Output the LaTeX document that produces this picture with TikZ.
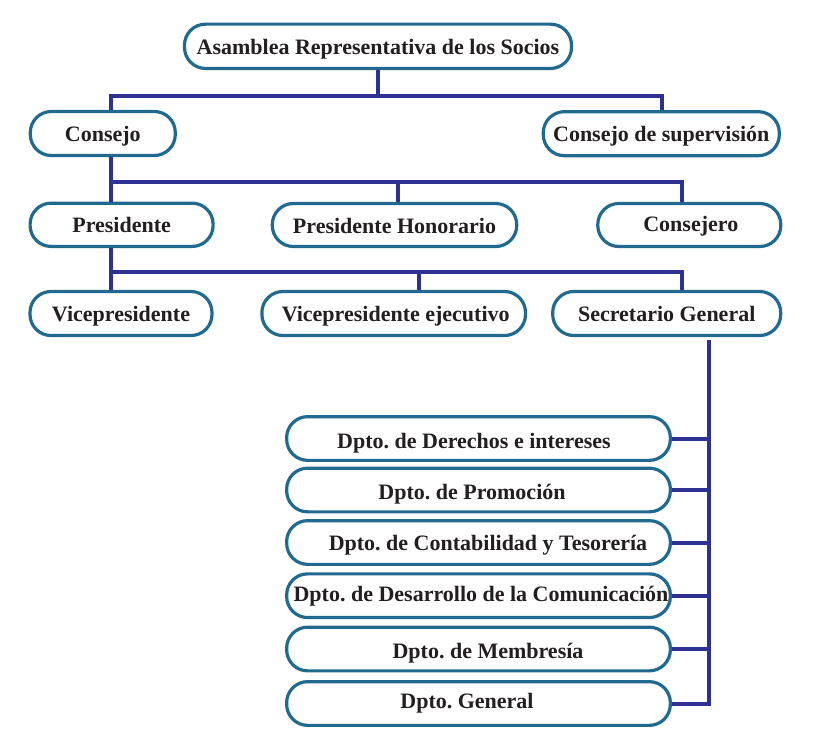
\documentclass[tikz,border=0pt]{standalone}
\usepackage{fontspec}
\setmainfont{Liberation Serif}
\definecolor{boxc}{RGB}{31,106,142}
\definecolor{linec}{RGB}{46,49,146}
\definecolor{txt}{RGB}{35,31,32}
\frenchspacing
\begin{document}
\begin{tikzpicture}[x=1pt,y=-1pt,
  box/.style={draw=boxc, line width=3.2pt, rounded corners=21pt, fill=white, inner sep=0pt,
    text height=16pt, text depth=0pt, align=center,
    font=\fontsize{22}{24}\selectfont\bfseries, text=txt},
  dbox/.style={box, minimum width=383.7pt, minimum height=43.7pt},
  conn/.style={draw=linec, line width=4pt, line join=miter}]
\useasboundingbox (0,0) rectangle (813,749);

% bus coordinates
\coordinate (a1) at (111,96);  \coordinate (a2) at (662,96);
\coordinate (b1) at (111,182); \coordinate (b2) at (682,182); \coordinate (b3) at (398,182);
\coordinate (c1) at (111,272); \coordinate (c2) at (682,272); \coordinate (c3) at (419,272);
\coordinate (sx) at (709,340);

% top levels
\node[box, minimum width=387pt, minimum height=44.3pt] (asam) at (378,46.3) {Asamblea Representativa de los Socios};
\node[box, minimum width=145pt, minimum height=44pt] (consejo) at (102.8,133.5) {Consejo};
\node[box, minimum width=236pt, minimum height=44pt] (sup) at (661.3,133.7) {Consejo de supervisión};
\node[box, minimum width=183pt, minimum height=43.3pt] (pres) at (121.6,224.8) {Presidente};
\node[box, minimum width=244.4pt, minimum height=43pt] (hon) at (394.5,225) {Presidente Honorario};
\node[box, minimum width=183pt, minimum height=43pt, text height=12pt] (conse) at (689.3,225) {\hspace*{3pt}Consejero};
\node[box, minimum width=182pt, minimum height=44pt] (vice) at (121,313.5) {Vicepresidente};
\node[box, minimum width=263.6pt, minimum height=44pt] (vej) at (393.7,313.5) {\hspace*{4pt}Vicepresidente ejecutivo};
\node[box, minimum width=228pt, minimum height=44pt] (sec) at (666.7,313.5) {Secretario General};

% departments
\node[dbox, text height=20pt] (d1) at (478.5,438.5) {Dpto. de Derechos e intereses\hspace*{9pt}};
\node[dbox, text height=18pt] (d2) at (478.5,490) {Dpto. de Promoción\hspace*{13pt}};
\node[dbox] (d3) at (478.5,542.5) {\hspace*{19pt}Dpto. de Contabilidad y Tesorería};
\node[dbox, text height=12pt] (d4) at (478.5,595.7) {\hspace*{5pt}Dpto. de Desarrollo de la Comunicación};
\node[dbox, text height=18pt] (d5) at (478.5,649) {\hspace*{19pt}Dpto. de Membresía};
\node[dbox, text height=9pt] (d6) at (478.5,703.5) {Dpto. General\hspace*{23pt}};

% connectors
\draw[conn] (asam.south) -- (asam.south |- a1);
\draw[conn] (consejo.north -| a1) -- (a1) -- (a2) -- (sup.north -| a2);
\draw[conn] (consejo.south -| b1) -- (b1) -- (b2) -- (conse.north -| b2);
\draw[conn] (b1) -- (pres.north -| b1);
\draw[conn] (b3) -- (hon.north -| b3);
\draw[conn] (pres.south -| c1) -- (c1) -- (c2) -- (sec.north -| c2);
\draw[conn] (c1) -- (vice.north -| c1);
\draw[conn] (c3) -- (vej.north -| c3);
\draw[conn] (sx) -- (d6.east -| sx) -- (d6.east);
\foreach \d in {d1,d2,d3,d4,d5} \draw[conn] (\d.east) -- (\d.east -| sx);
\end{tikzpicture}
\end{document}
